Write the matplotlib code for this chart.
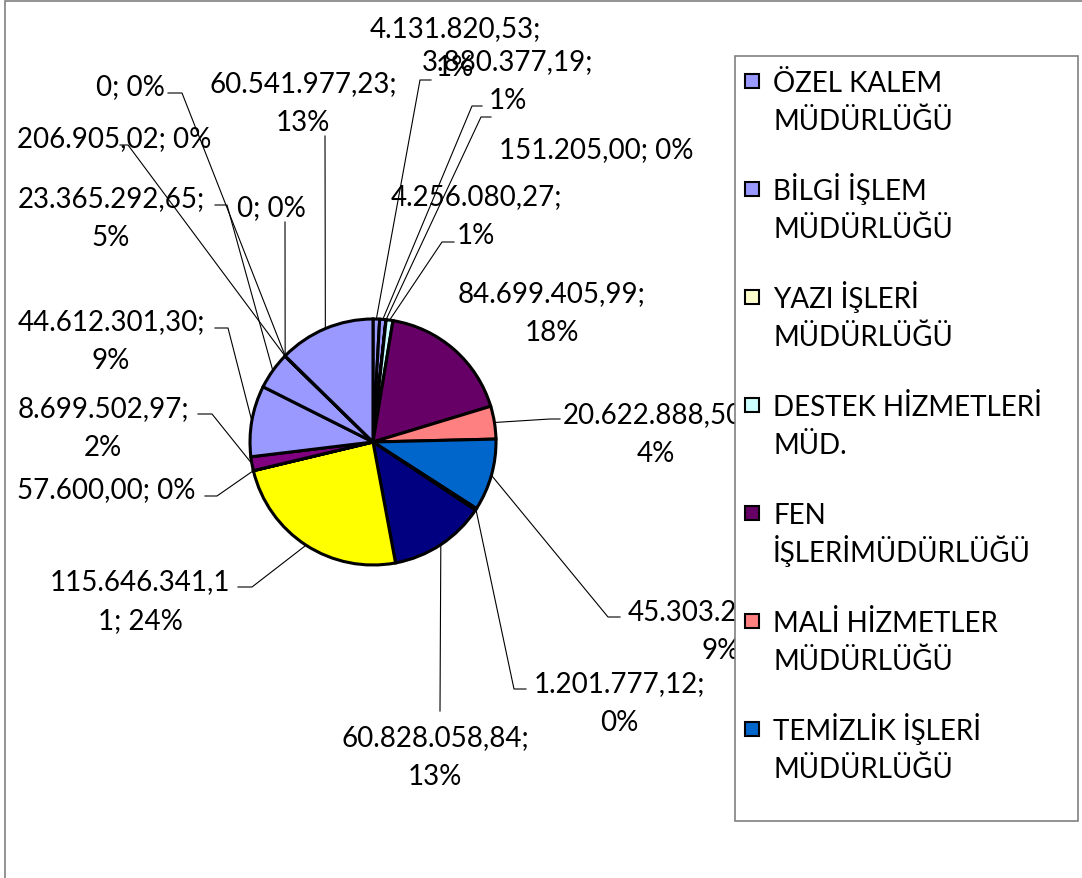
import numpy as np
import matplotlib
matplotlib.use('Agg')
import matplotlib.pyplot as plt
from matplotlib.patches import Rectangle

W, H = 1082, 879

# slice values (clockwise from 12 o'clock)
values = [4131820.53, 3880377.19, 151205.00, 4256080.27, 84699405.99,
          20622888.50, 45303214.36, 1201777.12, 60828058.84, 115646341.11,
          57600.00, 8699502.97, 44612301.30, 23365292.65, 206905.02,
          0, 0, 60541977.23]
colors = ['#9999FF', '#9999FF', '#FFFFCC', '#CCFFFF', '#660066',
          '#FF8080', '#0066CC', '#CCCCFF', '#000080', '#FFFF00',
          '#00FFFF', '#800080', '#9999FF', '#9999FF', '#9999FF',
          '#9999FF', '#9999FF', '#9999FF']
legend_names = ['ÖZEL KALEM\nMÜDÜRLÜĞÜ', 'BİLGİ İŞLEM\nMÜDÜRLÜĞÜ',
                'YAZI İŞLERİ\nMÜDÜRLÜĞÜ', 'DESTEK HİZMETLERİ\nMÜD.',
                'FEN\nİŞLERİMÜDÜRLÜĞÜ', 'MALİ HİZMETLER\nMÜDÜRLÜĞÜ',
                'TEMİZLİK İŞLERİ\nMÜDÜRLÜĞÜ']

# how each data label wraps: 'semi' = break after ';', 'one' = single line, 'cut' = char break
label_mode = ['semi', 'semi', 'one', 'semi', 'semi', 'semi', 'semi', 'semi', 'semi',
              'cut', 'one', 'semi', 'semi', 'semi', 'one', 'one', 'one', 'semi']
# first line centre of every label, in pixels from top-left
label_pos = [(455, 27), (508, 60), (596, 148), (476, 195), (552, 292),
             (656, 413), (721, 610), (619, 682), (435, 736), (140, 580),
             (106, 488), (103, 407), (111, 320), (111, 197), (114, 137),
             (130, 85), (271, 206), (303, 82)]
# leader elbow (x, y) and short horizontal tail, pixels
leaders = [(420, 81, 11), (472, 107, 10), (481, 118, 10), (442, 243, 12), None,
           (550, 420, 10), (608, 618, 12), (514, 690, 12), (440, 712, 0),
           (252, 588, -14), (217, 497, -12), (212, 415, -14), (228, 329, -13),
           (227, 206, -12), (128, 146, -8), (182, 94, -14), (285, 223, 0),
           (325, 137, 0)]


def tr_num(v):
    # turkish number format: 1.234.567,89
    if v == 0:
        return '0'
    s = f'{v:,.2f}'
    return s.replace(',', ' ').replace('.', ',').replace(' ', '.')


def label_lines(v, pct, mode):
    s = tr_num(v) + '; ' + f'{pct}%'
    if mode == 'one':
        return [s]
    if mode == 'cut':
        return [s[:13], s[13:]]
    return s.replace('; ', ';\n').split('\n')


plt.rcParams['font.family'] = ['Lato', 'DejaVu Sans']
FS = 20
LINE = 39

fig = plt.figure(figsize=(W / 100, H / 100), dpi=100)
ax = fig.add_axes([0, 0, 1, 1])

cx, cy, r = 373, H - 443, 123
wedges, _ = ax.pie(values, colors=colors, startangle=90, counterclock=False,
                   center=(cx, cy), radius=r,
                   wedgeprops=dict(edgecolor='black', linewidth=2.2))
ax.set_xlim(0, W)
ax.set_ylim(0, H)
ax.set_aspect('equal')
ax.axis('off')

total = sum(values)
for i, w in enumerate(wedges):
    pct = int(round(values[i] / total * 100))
    lx, ly = label_pos[i]
    for j, line in enumerate(label_lines(values[i], pct, label_mode[i])):
        ax.text(lx, H - (ly + j * LINE) - 10, line, ha='center', va='baseline',
                fontsize=FS, color='black', zorder=3)
    if leaders[i] is None:
        continue
    ang = np.deg2rad((w.theta1 + w.theta2) / 2)
    px, py = cx + r * np.cos(ang), cy + r * np.sin(ang)
    ex, ey, tail = leaders[i]
    ax.plot([px, ex, ex + tail], [py, H - ey, H - ey], color='black', lw=0.8, zorder=2)

# legend box, drawn by hand like the Excel one (marker at the first line)
ax.add_patch(Rectangle((735, H - 822), 343, 765, facecolor='white',
                       edgecolor='#808080', lw=1.2, zorder=5))
for i, name in enumerate(legend_names):
    y0 = 82 + i * 108
    ax.add_patch(Rectangle((745, H - y0 - 7), 14, 14, facecolor=colors[i],
                           edgecolor='black', lw=1.5, zorder=6))
    for j, line in enumerate(name.split('\n')):
        ax.text(773, H - (y0 + j * 38) - 10, line, ha='left', va='baseline',
                fontsize=FS, color='black', zorder=6)

# chart area border
ax.add_patch(Rectangle((5, -20), 1200, H - 2 + 20, facecolor='none',
                       edgecolor='#808080', lw=1.2, zorder=1))

fig.savefig('out.png', dpi=100)
